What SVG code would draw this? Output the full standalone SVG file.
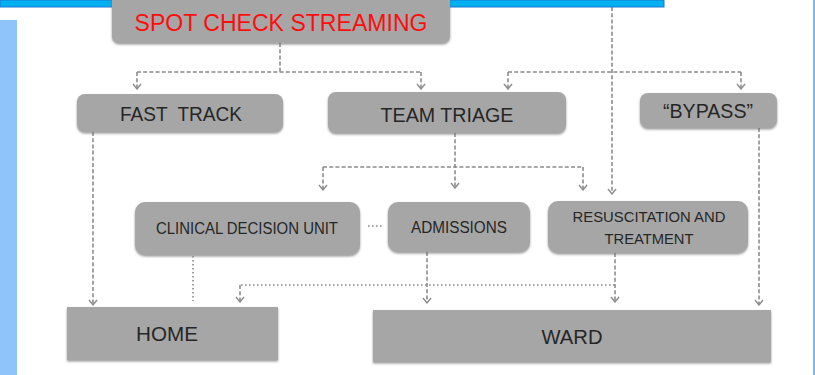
<svg xmlns="http://www.w3.org/2000/svg" width="815" height="375" viewBox="0 0 815 375">
<style>
.box{fill:#a6a6a6;filter:url(#sh)}
.t{font-family:"Liberation Sans",Arial,sans-serif;fill:#262626;text-anchor:middle}
.ln{fill:none;stroke:#8c8c8c;stroke-width:1.6}
.dash{stroke-dasharray:4 2.2}
.dot{stroke-dasharray:1.6 2.4}
.arr{marker-end:url(#ah)}
</style>
<defs>
<filter id="sh" x="-5%" y="-10%" width="110%" height="130%">
<feDropShadow dx="0" dy="1.5" stdDeviation="0.8" flood-color="#6e6e6e" flood-opacity="0.7"/>
</filter>
<marker id="ah" viewBox="-1 -5 7 10" refX="5" refY="0" markerWidth="7" markerHeight="10" markerUnits="userSpaceOnUse" orient="auto">
<path d="M0,-4 L5,0 L0,4" fill="none" stroke="#8c8c8c" stroke-width="1.4"/>
</marker>
</defs>
<rect x="0" y="0" width="815" height="375" fill="#ffffff"/>
<rect x="0" y="20" width="17" height="355" fill="#8fc4fb"/>
<rect x="813" y="0" width="2" height="375" fill="#7ab8f5"/>

<g id="connectors">
<path class="ln dash" d="M280,43 V72"/>
<path class="ln dash" d="M137,72 H421"/>
<path class="ln dash arr" d="M137,72 V89"/>
<path class="ln dash arr" d="M421,72 V89"/>
<path class="ln dash arr" d="M612,7 V194"/>
<path class="ln dash" d="M508,72 H741"/>
<path class="ln dash arr" d="M508,72 V89"/>
<path class="ln dash arr" d="M741,72 V89"/>
<path class="ln dash arr" d="M455,133 V188"/>
<path class="ln dash" d="M323,167 H583"/>
<path class="ln dash arr" d="M323,167 V190"/>
<path class="ln dash arr" d="M583,167 V190"/>
<path class="ln dash arr" d="M93,132 V305"/>
<path class="ln dash arr" d="M759,128 V305"/>
<path class="ln dash arr" d="M427,252 V303"/>
<path class="ln dash arr" d="M615,253 V302"/>
<path class="ln dot" d="M193,256 V301"/>
<path class="ln dot" d="M241,285 H615"/>
<path class="ln dash arr" d="M240,285 V302"/>
<path class="ln dot" d="M368,226 H384"/>
</g>

<rect x="0" y="0" width="664" height="7" fill="#00b0f0" stroke="#1f78d1" stroke-width="1"/>

<g id="spot">
<rect class="box" x="112" y="-10" width="338" height="53" rx="7"/>
<text class="t" x="281" y="31" font-size="23" textLength="293" lengthAdjust="spacingAndGlyphs" style="fill:#ff0d0d">SPOT CHECK STREAMING</text>
</g>
<g id="fasttrack">
<rect class="box" x="77" y="94" width="206" height="38" rx="8"/>
<text class="t" x="181" y="121" font-size="21" textLength="122" lengthAdjust="spacingAndGlyphs" xml:space="preserve">FAST  TRACK</text>
</g>
<g id="teamtriage">
<rect class="box" x="328" y="92" width="238" height="41" rx="8"/>
<text class="t" x="447" y="122" font-size="21" textLength="133" lengthAdjust="spacingAndGlyphs">TEAM TRIAGE</text>
</g>
<g id="bypass">
<rect class="box" x="640" y="93" width="137" height="35" rx="8"/>
<text class="t" x="708" y="118" font-size="21" textLength="90" lengthAdjust="spacingAndGlyphs">“BYPASS”</text>
</g>
<g id="cdu">
<rect class="box" x="135" y="202" width="225" height="53" rx="10"/>
<text class="t" x="247" y="234" font-size="16" textLength="182" lengthAdjust="spacingAndGlyphs">CLINICAL DECISION UNIT</text>
</g>
<g id="admissions">
<rect class="box" x="388" y="202" width="142" height="50" rx="10"/>
<text class="t" x="459" y="233" font-size="16" textLength="96" lengthAdjust="spacingAndGlyphs">ADMISSIONS</text>
</g>
<g id="resus">
<rect class="box" x="548" y="201" width="200" height="52" rx="10"/>
<text class="t" x="649" y="222" font-size="15" textLength="153" lengthAdjust="spacingAndGlyphs">RESUSCITATION AND</text>
<text class="t" x="649" y="244" font-size="15" textLength="89" lengthAdjust="spacingAndGlyphs">TREATMENT</text>
</g>
<g id="home">
<rect class="box" x="67" y="307" width="211" height="53"/>
<text class="t" x="167" y="341" font-size="20" textLength="62" lengthAdjust="spacingAndGlyphs">HOME</text>
</g>
<g id="ward">
<rect class="box" x="373" y="310" width="398" height="52"/>
<text class="t" x="572" y="344" font-size="20" textLength="61" lengthAdjust="spacingAndGlyphs">WARD</text>
</g>
</svg>
